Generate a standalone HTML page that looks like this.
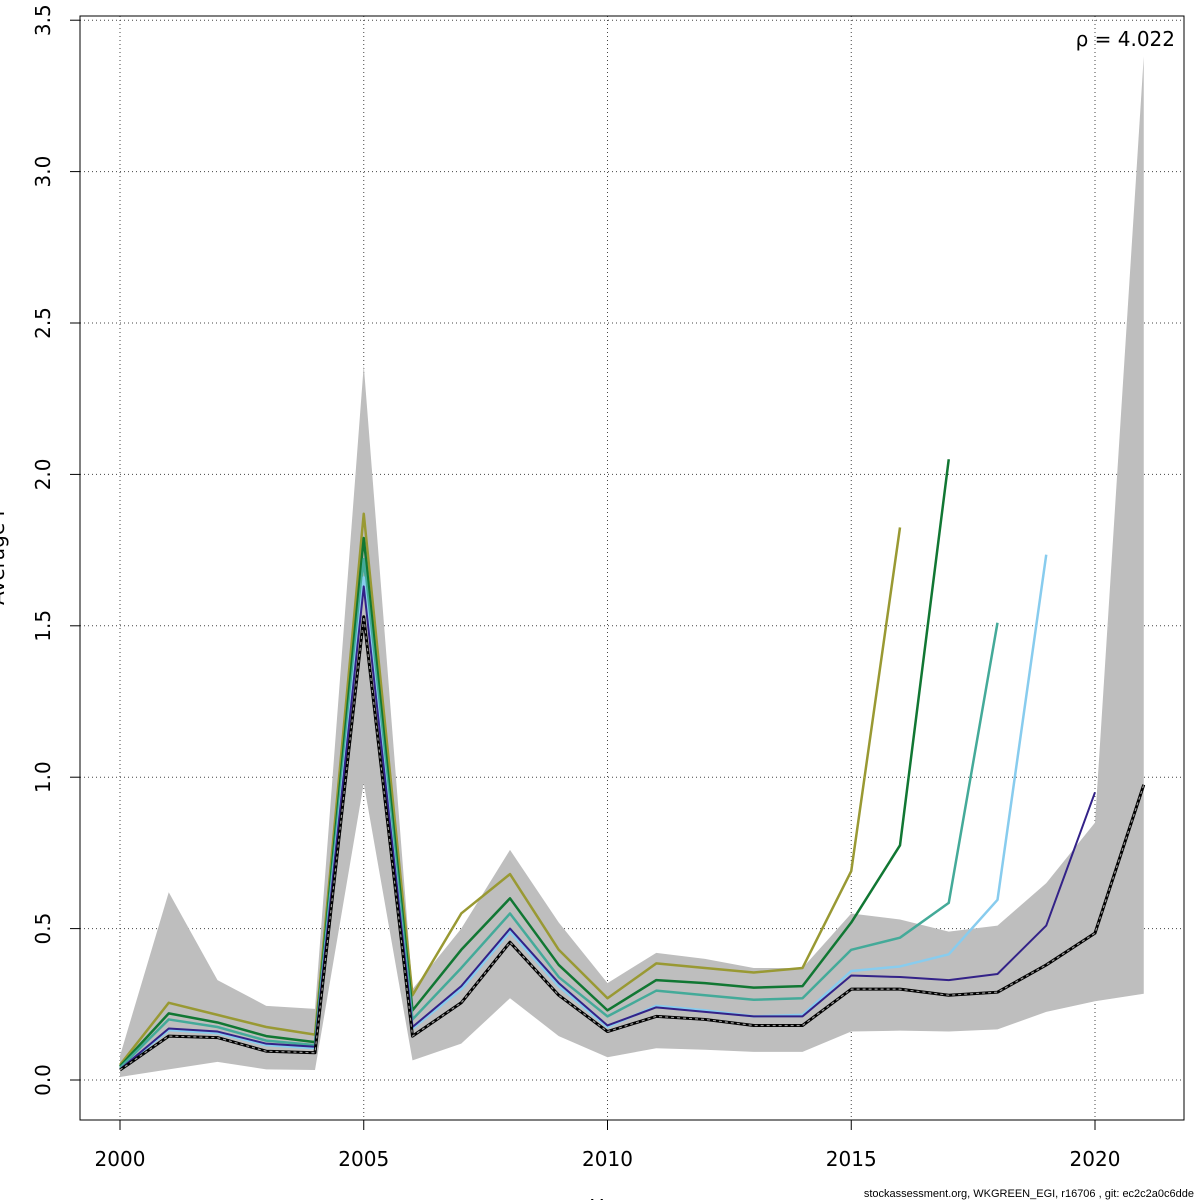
<!DOCTYPE html>
<html><head><meta charset="utf-8"><style>body{margin:0;background:#fff}svg{display:block;font-family:"DejaVu Sans","Liberation Sans",sans-serif}</style></head>
<body>
<svg id="chart" width="1200" height="1200" viewBox="0 0 1200 1200" xmlns="http://www.w3.org/2000/svg"></svg>
<script>
const years=[2000,2001,2002,2003,2004,2005,2006,2007,2008,2009,2010,2011,2012,2013,2014,2015,2016,2017,2018,2019,2020,2021];
const bandUpper=[0.08,0.62,0.33,0.245,0.235,2.36,0.3,0.5,0.76,0.52,0.32,0.42,0.40,0.37,0.37,0.55,0.53,0.49,0.51,0.65,0.85,3.38];
const bandLower=[0.01,0.035,0.06,0.035,0.033,0.98,0.065,0.12,0.27,0.145,0.075,0.105,0.1,0.093,0.093,0.16,0.163,0.16,0.167,0.225,0.26,0.285];
const base=[0.033,0.145,0.14,0.095,0.09,1.53,0.145,0.255,0.455,0.28,0.16,0.21,0.2,0.18,0.18,0.3,0.3,0.28,0.29,0.38,0.485,0.975];
const peel1=[0.05,0.255,0.215,0.175,0.15,1.87,0.28,0.55,0.68,0.43,0.27,0.385,0.37,0.355,0.37,0.69,1.825];
const peel2=[0.045,0.22,0.19,0.145,0.125,1.79,0.23,0.43,0.6,0.38,0.23,0.33,0.32,0.305,0.31,0.52,0.775,2.05];
const peel3=[0.04,0.2,0.175,0.13,0.115,1.72,0.2,0.37,0.55,0.34,0.21,0.295,0.28,0.265,0.27,0.43,0.47,0.585,1.51];
const peel4=[0.035,0.165,0.155,0.115,0.105,1.66,0.17,0.3,0.49,0.31,0.175,0.245,0.23,0.21,0.215,0.36,0.375,0.415,0.595,1.735];
const peel5=[0.035,0.17,0.16,0.12,0.11,1.63,0.175,0.31,0.5,0.32,0.18,0.24,0.225,0.21,0.21,0.345,0.34,0.33,0.35,0.51,0.95];
const xTicks=[2000,2005,2010,2015,2020];
const yTicks=[0,0.5,1,1.5,2,2.5,3,3.5];
const yTickLabels=["0.0","0.5","1.0","1.5","2.0","2.5","3.0","3.5"];

const svg=document.getElementById('chart');
const NS='http://www.w3.org/2000/svg';
const X=v=>120+(v-2000)*48.75;
const Y=v=>1080-v*302.8;
function mk(t,a){const e=document.createElementNS(NS,t);for(const k in a)e.setAttribute(k,a[k]);svg.appendChild(e);return e;}
// grid
xTicks.forEach(t=>{const l=mk('line',{x1:X(t),x2:X(t),y1:16,y2:1120,stroke:'#444','stroke-width':1,'stroke-dasharray':'1,3'});

});
yTicks.forEach(t=>{const l=mk('line',{x1:80,x2:1184,y1:Y(t),y2:Y(t),stroke:'#444','stroke-width':1,'stroke-dasharray':'1,3'});

});
// band
let pts=years.map((y,i)=>X(y)+','+Y(bandUpper[i])).concat(years.slice().reverse().map((y,j)=>X(y)+','+Y(bandLower[years.length-1-j])));
const band=mk('polygon',{points:pts.join(' '),fill:'#bebebe'});


function line(arr,col,w,name){const p=arr.map((v,i)=>X(years[i])+','+Y(v)).join(' ');const e=mk('polyline',{points:p,fill:'none',stroke:col,'stroke-width':w,'stroke-linejoin':'round'});

return e;}
line(peel1,'#999933',2.5,'peel-2016-line');
line(peel2,'#117733',2.5,'peel-2017-line');
line(peel3,'#44AA99',2.5,'peel-2018-line');
line(peel4,'#88CCEE',2.5,'peel-2019-line');
line(peel5,'#332288',2,'peel-2020-line');
line(base,'#000',3,'base-line');
const d=line(base,'#999',1.2,'base-line-dash');d.setAttribute('stroke-dasharray','3,3');
// box
const box=mk('rect',{x:80,y:16,width:1104,height:1104,fill:'none',stroke:'#000','stroke-width':1});


// axes ticks
xTicks.forEach(t=>{mk('line',{x1:X(t),x2:X(t),y1:1120,y2:1130,stroke:'#000'});
const tx=mk('text',{x:X(t),y:1166,'font-size':20,'text-anchor':'middle'});tx.textContent=t;

});
yTicks.forEach((t,i)=>{mk('line',{x1:70,x2:80,y1:Y(t),y2:Y(t),stroke:'#000'});
const tx=mk('text',{x:50,y:Y(t),'font-size':20,'text-anchor':'middle',transform:`rotate(-90 50 ${Y(t)})`});tx.textContent=yTickLabels[i];

});
const rho=mk('text',{x:1175,y:46,'font-size':20,'text-anchor':'end'});rho.textContent='ρ = 4.022';


const xt=mk('text',{x:612,y:1214,'font-size':20,'text-anchor':'middle'});xt.textContent='Year';


const yt=mk('text',{x:4,y:555,'font-size':20,'text-anchor':'middle',transform:'rotate(-90 4 555)'});yt.textContent='Average F';


const ft=mk('text',{x:1194,y:1197,'font-size':11,'text-anchor':'end','font-family':'Liberation Sans Narrow, Liberation Sans, sans-serif'});ft.textContent='stockassessment.org, WKGREEN_EGI, r16706 , git: ec2c2a0c6dde';


</script>
</body></html>
